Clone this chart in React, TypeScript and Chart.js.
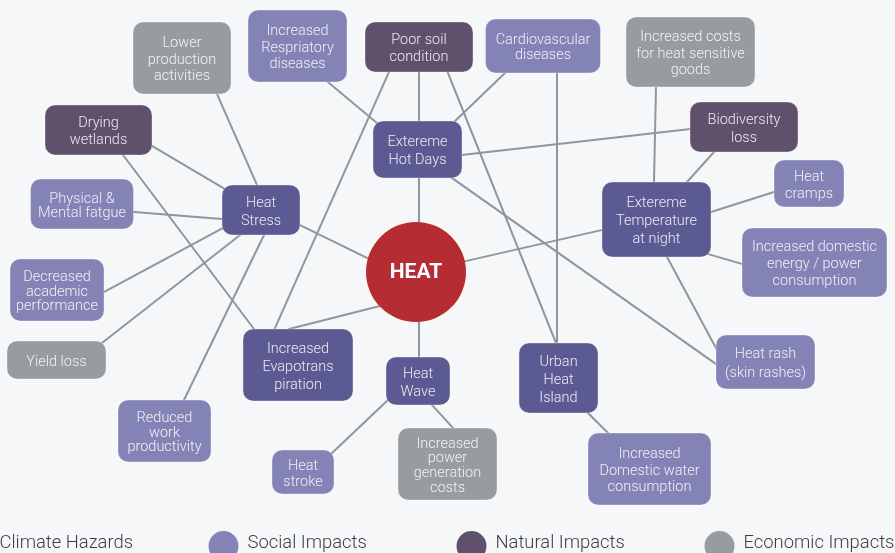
import { useEffect, useRef } from "react";
import { Chart, registerables } from "chart.js";

Chart.register(...registerables);

const categoryNames = ["Climate Hazards", "Social Impacts", "Natural Impacts", "Economic Impacts"];
const categoryColors = ["#5b5a92", "#8483b6", "#5f506b", "#969ca0", "#b52d33"];

const nodeIds = ["HEAT", "HS", "LP", "DW", "PM", "RD", "PS", "CV", "EHD", "IC", "BL", "HC", "ETN", "DE", "DA", "YL", "RW", "EV", "HW", "HST", "IPG", "UHI", "HR", "DWC"];
const nodeLabels = [
  "HEAT",
  "Heat\nStress",
  "Lower\nproduction\nactivities",
  "Drying\nwetlands",
  "Physical &\nMental fatgue",
  "Increased\nRespriatory\ndiseases",
  "Poor soil\ncondition",
  "Cardiovascular\ndiseases",
  "Extereme\nHot Days",
  "Increased costs\nfor heat sensitive\ngoods",
  "Biodiversity\nloss",
  "Heat\ncramps",
  "Extereme\nTemperature\nat night",
  "Increased domestic\nenergy / power\nconsumption",
  "Decreased\nacademic\nperformance",
  "Yield loss",
  "Reduced\nwork\nproductivity",
  "Increased\nEvapotrans\npiration",
  "Heat\nWave",
  "Heat\nstroke",
  "Increased\npower\ngeneration\ncosts",
  "Urban\nHeat\nIsland",
  "Heat rash\n(skin rashes)",
  "Increased\nDomestic water\nconsumption",
];
// 0 climate, 1 social, 2 natural, 3 economic, 4 hub
const nodeCategory = [4, 0, 3, 2, 1, 1, 2, 1, 0, 3, 2, 1, 0, 1, 1, 3, 1, 0, 0, 1, 3, 0, 1, 1];
const nodeX = [416, 261, 182, 98.5, 82, 297.5, 419, 543, 417.5, 690.5, 744, 809, 656.5, 814.5, 57, 56.5, 164.5, 298, 418, 303, 447.5, 558.5, 765.5, 649.5];
const nodeY = [272, 210, 58, 130, 204, 46, 47, 46, 149.5, 52, 127, 183.5, 219.5, 262.5, 290, 360, 431, 365, 381, 472, 464, 378, 362, 469];
const nodeW = [100, 78, 98, 107, 103, 99, 108, 115, 89, 129, 108, 70, 109, 145, 94, 99, 93, 110, 64, 62, 99, 79, 99, 123];
const nodeH = [102, 50, 72, 50, 50, 72, 50, 54, 57, 70, 50, 47, 75, 69, 62, 38, 62, 72, 48, 44, 72, 70, 54, 72];
const nodeLineH = [0, 18, 16.5, 17, 14, 16.5, 17.7, 15, 17.6, 16.5, 18, 17, 18, 17, 14.5, 0, 14.5, 18, 18, 16, 14.7, 18, 18.5, 16.5];

const edgeFrom = ["LP", "DW", "DW", "PM", "HS", "HS", "HS", "HS", "RD", "PS", "PS", "PS", "CV", "CV", "EHD", "EHD", "EHD", "IC", "BL", "HC", "DE", "ETN", "HEAT", "HEAT", "HEAT", "HW", "HW", "UHI"];
const edgeTo = ["HS", "HS", "EV", "HS", "DA", "YL", "RW", "HEAT", "EHD", "EHD", "EV", "UHI", "EHD", "UHI", "BL", "HR", "HEAT", "ETN", "ETN", "ETN", "ETN", "HR", "ETN", "EV", "HW", "HST", "IPG", "DWC"];
const edgeFromOffset = [
  [35, 36], [53.5, 16], [24.5, 25], [51, 8], [-38, 18], [-21, 25], [3, 25], [39, 15],
  [31.5, 37], [0, 25], [-30, 25], [29, 26], [-39, 28], [14, 27], [44.5, 5.5], [34.5, 28.5],
  [1.5, 28.5], [-34.5, 35], [-30, 25], [-35, 8.5], [-72.5, 1.5], [10.5, 37.5], [50, -11],
  [-36, 34], [3, 50], [-30, 19], [15, 25], [29.5, 35],
];
const edgeToOffset = [
  [-4, -25], [-36, -21], [-44, -36], [-38, 9], [47, 2], [45.5, -17], [19.5, -31], [-49, -14],
  [-40.5, -26.5], [1.5, -28.5], [-23, -37], [-2.5, -35], [36.5, -27.5], [-1.5, -35], [-54, 2], [-49.5, 2],
  [3, -50], [-2.5, -37.5], [30.5, -37.5], [54.5, -7.5], [51.5, 34.5], [-49.5, -14], [-54.5, 10.5],
  [-5, -37], [1, -24], [29, -19], [5.5, -36], [-41.5, -36],
];

const W = 895;
const H = 553;

function buildEdgeDatasets() {
  return edgeFrom.map((f, i) => {
    const a = nodeIds.indexOf(f);
    const b = nodeIds.indexOf(edgeTo[i]);
    let x1 = nodeX[a] + edgeFromOffset[i][0];
    let y1 = nodeY[a] + edgeFromOffset[i][1];
    let x2 = nodeX[b] + edgeToOffset[i][0];
    let y2 = nodeY[b] + edgeToOffset[i][1];
    const len = Math.hypot(x2 - x1, y2 - y1) || 1;
    const ux = (x2 - x1) / len;
    const uy = (y2 - y1) / len;
    const ext = 5;
    x1 -= ux * ext; y1 -= uy * ext; x2 += ux * ext; y2 += uy * ext;
    return {
      type: "scatter" as const,
      data: [{ x: x1, y: y1 }, { x: x2, y: y2 }],
      showLine: true,
      borderColor: "#8e979c",
      borderWidth: 2,
      pointRadius: 0,
      pointHoverRadius: 0,
      fill: false,
    };
  });
}

const nodePlugin = {
  id: "nodes",
  afterDatasetsDraw(chart: any) {
    const ctx: CanvasRenderingContext2D = chart.ctx;
    const xs = chart.scales.x;
    const ys = chart.scales.y;
    ctx.save();
    for (let i = 0; i < nodeIds.length; i++) {
      const cx = xs.getPixelForValue(nodeX[i]);
      const cy = ys.getPixelForValue(nodeY[i]);
      const cat = nodeCategory[i];
      const w = Math.abs(xs.getPixelForValue(nodeX[i] + nodeW[i] / 2) - xs.getPixelForValue(nodeX[i] - nodeW[i] / 2));
      const h = Math.abs(ys.getPixelForValue(nodeY[i] + nodeH[i] / 2) - ys.getPixelForValue(nodeY[i] - nodeH[i] / 2));
      ctx.fillStyle = categoryColors[cat];
      if (cat === 4) {
        ctx.beginPath();
        ctx.arc(cx, cy, Math.min(w, h) / 2, 0, Math.PI * 2);
        ctx.fill();
        ctx.fillStyle = "#ffffff";
        ctx.font = "bold 21px Roboto";
        ctx.textAlign = "center";
        ctx.textBaseline = "middle";
        ctx.fillText(nodeLabels[i], cx, cy + 1);
        continue;
      }
      ctx.beginPath();
      (ctx as any).roundRect(cx - w / 2, cy - h / 2, w, h, 10);
      ctx.fill();
      ctx.strokeStyle = "rgba(255,255,255,0.35)";
      ctx.lineWidth = 1;
      ctx.stroke();
      const lines = nodeLabels[i].split("\n");
      ctx.fillStyle = "rgba(255,255,255,0.88)";
      ctx.font = "300 14.5px Roboto";
      ctx.textAlign = "center";
      ctx.textBaseline = "middle";
      const lh = nodeLineH[i];
      lines.forEach((ln, k) => {
        ctx.fillText(ln, cx, cy + (k - (lines.length - 1) / 2) * lh + 2);
      });
    }
    ctx.restore();
  },
  afterDraw(chart: any) {
    const ctx: CanvasRenderingContext2D = chart.ctx;
    ctx.save();
    const startX = -24.5;
    const step = 248;
    const cy = 546;
    categoryNames.forEach((name, i) => {
      const cx = startX + step * i;
      ctx.fillStyle = categoryColors[i];
      ctx.beginPath();
      ctx.arc(cx, cy, 15, 0, Math.PI * 2);
      ctx.fill();
      ctx.fillStyle = "#3a3f44";
      ctx.font = "300 18.4px Roboto";
      ctx.textAlign = "left";
      ctx.textBaseline = "middle";
      ctx.fillText(name, cx + 24, 543);
    });
    ctx.restore();
  },
};

export default function App() {
  const ref = useRef<HTMLCanvasElement>(null);
  useEffect(() => {
    if (!ref.current) return;
    const chart = new Chart(ref.current, {
      type: "scatter",
      data: { datasets: buildEdgeDatasets() as any },
      options: {
        animation: false,
        responsive: false,
        events: [],
        layout: { padding: 0 },
        plugins: { legend: { display: false }, tooltip: { enabled: false } },
        scales: {
          x: { type: "linear", min: 0, max: W, display: false },
          y: { type: "linear", min: 0, max: H, reverse: true, display: false },
        },
      },
      plugins: [nodePlugin],
    });
    return () => chart.destroy();
  }, []);
  return (
    <div style={{ position: "fixed", left: 0, top: 0, width: W, height: H, background: "#f5f7f9", overflow: "hidden" }}>
      <canvas ref={ref} width={W} height={H} style={{ display: "block" }} />
    </div>
  );
}
